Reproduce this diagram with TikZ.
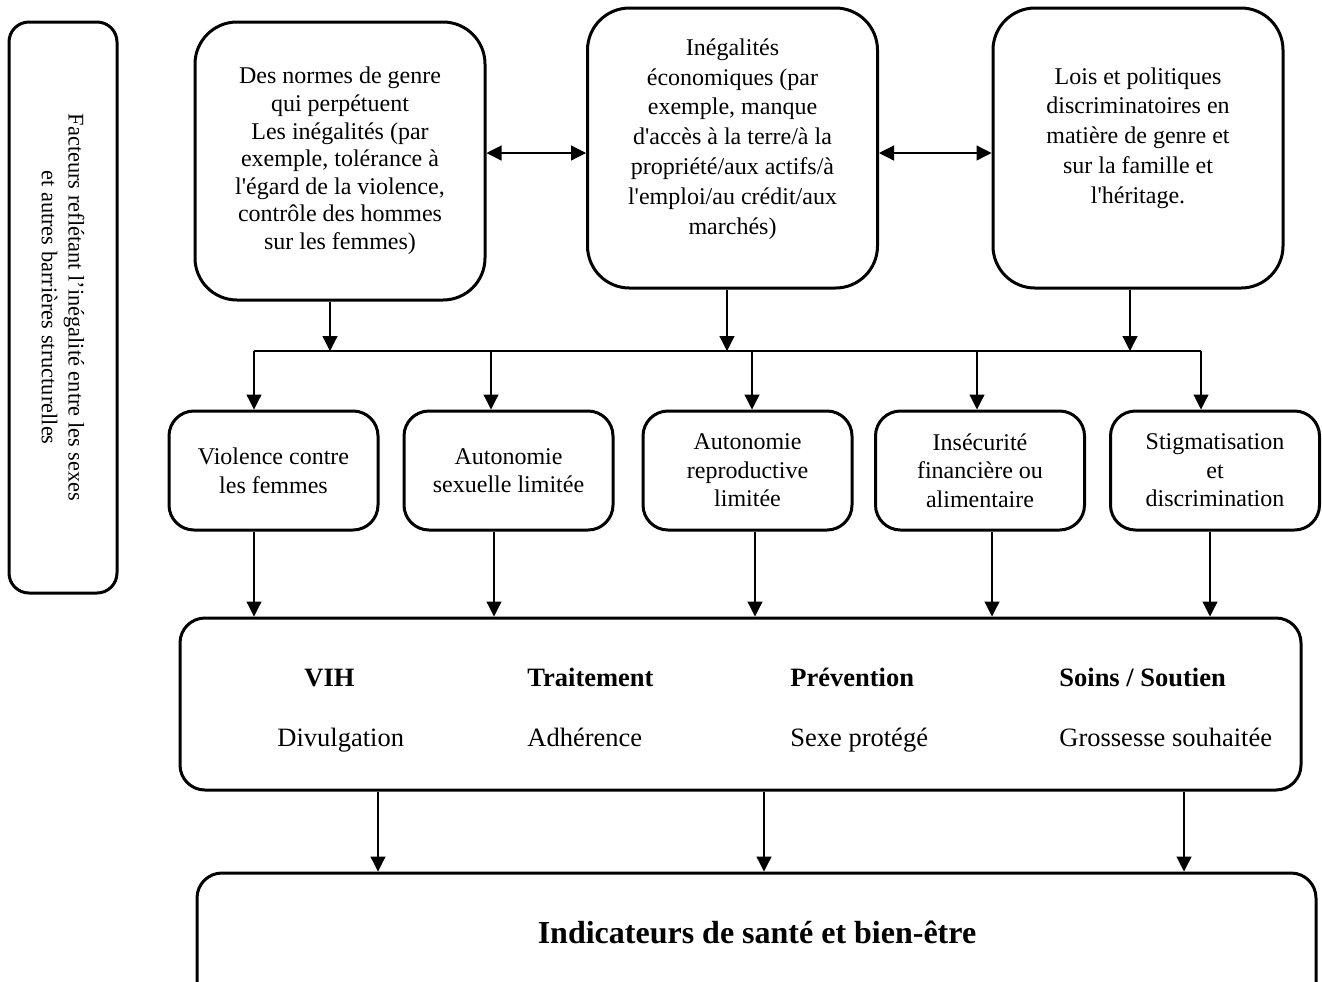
\documentclass[tikz,border=0pt]{standalone}
\usepackage{fontspec}
\setmainfont{Liberation Serif}
\usetikzlibrary{positioning, arrows.meta, calc}

\tikzset{
  box/.style={draw, line width=1.5pt, rounded corners=12.5pt, align=center, inner sep=2pt},
  topbox/.style={box, rounded corners=21pt, minimum width=145pt, minimum height=140pt},
  midbox/.style={box, minimum width=104.5pt, minimum height=59.5pt, font=\fontsize{12}{14.3}\selectfont},
  txt/.style={align=center, font=\fontsize{12}{14.9}\selectfont},
  arr/.style={->, line width=0.6pt},
  col/.style={anchor=base west, inner sep=0pt, font=\fontsize{13.25}{15}\selectfont},
  colhead/.style={col, font=\fontsize{13.25}{15}\selectfont\bfseries},
}

\begin{document}
\begin{tikzpicture}[x=0.5pt, y=-0.5pt, >={Triangle[length=7.5pt,width=7.5pt]}]
            \useasboundingbox (0,0) rectangle (1322,981);
            \clip (0,0) rectangle (1322,981);

            % side label
            \node[box, rounded corners=10pt, rotate=-90, minimum width=285.5pt, minimum height=54pt,
                  font=\fontsize{11.2}{13.3}\selectfont] (facteurs) at (63,307.5)
                  {Facteurs reflétant l’inégalité entre les sexes\\et autres barrières structurelles};

            % structural factors
            \node[topbox, minimum height=139pt, font=\fontsize{12}{13.8}\selectfont] (normes) at (340,161)
                  {Des normes de genre\\qui perpétuent\\Les inégalités (par\\exemple, tolérance à\\l\textquotesingle égard de la violence,\\contrôle des hommes\\sur les femmes)};

            \node[topbox] (eco) at (732.5,148) {};
            \node[txt] (ecotxt) at (732.5,139)
                  {Inégalités\\économiques (par\\exemple, manque\\d\textquotesingle accès à la terre/à la\\propriété/aux actifs/à\\l\textquotesingle emploi/au crédit/aux\\marchés)};

            \node[topbox] (lois) at (1138,148) {};
            \node[txt] (loistxt) at (1138,138)
                  {Lois et politiques\\discriminatoires en\\matière de genre et\\sur la famille et\\l\textquotesingle héritage.};

            \draw[<->, line width=0.6pt] ([yshift=4pt]normes.east) -- ([yshift=4pt]normes.east -| eco.west);
            \draw[<->, line width=0.6pt] ([yshift=-2.5pt]eco.east) -- ([yshift=-2.5pt]eco.east -| lois.west);

            % bus
            \coordinate (busL) at (254,351);
            \coordinate (busR) at (1201,351);
            \draw[line width=0.6pt] (busL) -- (busR);
            \draw[arr] ([xshift=-5pt]normes.south) -- ([xshift=-5pt]normes.south |- busL);
            \draw[arr] ([xshift=-2.75pt]eco.south) -- ([xshift=-2.75pt]eco.south |- busL);
            \draw[arr] ([xshift=-4pt]lois.south) -- ([xshift=-4pt]lois.south |- busL);

            % consequences
            \node[midbox] (violence) at (273.5,470.5) {Violence contre\\les femmes};
            \node[midbox] (sexuelle) at (508.5,470.5) {Autonomie\\sexuelle limitée};
            \node[midbox] (reprod) at (747.5,470.5) {Autonomie\\reproductive\\limitée};
            \node[midbox] (insecurite) at (980,470.5) {Insécurité\\financière ou\\alimentaire};
            \node[midbox] (stigma) at (1215,470.5) {Stigmatisation\\et\\discrimination};

            \foreach \n/\dx in {violence/-9.75pt, sexuelle/-8.75pt, reprod/2.25pt, insecurite/-1.5pt, stigma/-7pt}
                \draw[arr] ([xshift=\dx]\n.north |- busL) -- ([xshift=\dx]\n.north);

            % HIV outcomes
            \node[box, minimum width=560.5pt, minimum height=86pt] (prog) at (740.5,704) {};
            \node[colhead] (vih) at (304,686) {VIH};
            \node[colhead] (trait) at (527,686) {Traitement};
            \node[colhead] (prev) at (790,686) {Prévention};
            \node[colhead] (soins) at (1059,686) {Soins / Soutien};
            \node[col] (divul) at (277,746) {Divulgation};
            \node[col] (adher) at (527,746) {Adhérence};
            \node[col] (sexe) at (790,746) {Sexe protégé};
            \node[col] (gross) at (1059,746) {Grossesse souhaitée};

            \foreach \n/\dx in {violence/-9.75pt, sexuelle/-7.25pt, reprod/3.75pt, insecurite/6pt, stigma/-2.5pt}
                \draw[arr] ([xshift=\dx]\n.south) -- ([xshift=\dx]\n.south |- prog.north);

            % health
            \node[box, minimum width=559.5pt, minimum height=68.5pt] (indic) at (756.5,941.5) {};
            \node[font=\fontsize{16}{19}\selectfont\bfseries] (indictxt) at (757,932) {Indicateurs de santé et bien-être};

            \draw[arr] ([xshift=-181.25pt]prog.south) -- ([xshift=-181.25pt]prog.south |- indic.north);
            \draw[arr] ([xshift=11.75pt]prog.south) -- ([xshift=11.75pt]prog.south |- indic.north);
            \draw[arr] ([xshift=221.75pt]prog.south) -- ([xshift=221.75pt]prog.south |- indic.north);
        \end{tikzpicture}
\end{document}
